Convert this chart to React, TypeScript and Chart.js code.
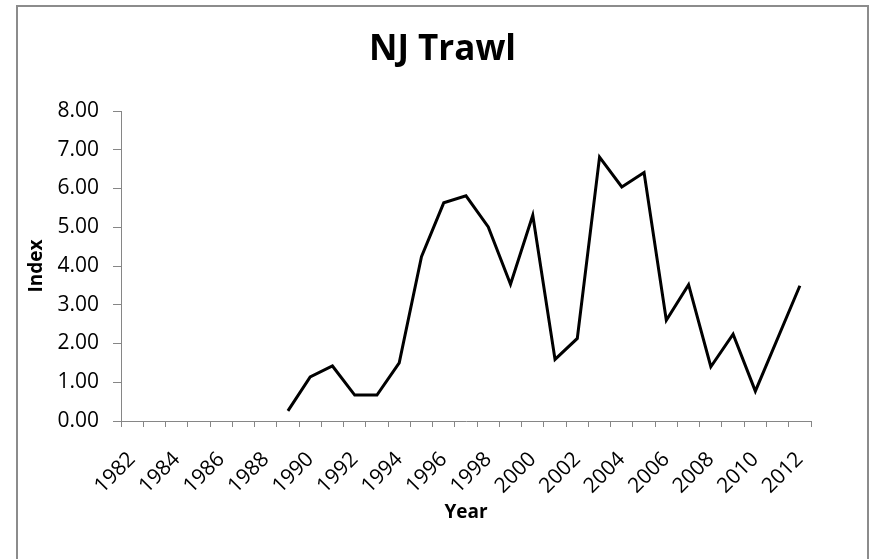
import React, { useEffect, useRef } from "react";
import { Chart, registerables } from "chart.js";

Chart.register(...registerables);

const years: string[] = [
  "1982", "1983", "1984", "1985", "1986", "1987", "1988", "1989", "1990", "1991",
  "1992", "1993", "1994", "1995", "1996", "1997", "1998", "1999", "2000", "2001",
  "2002", "2003", "2004", "2005", "2006", "2007", "2008", "2009", "2010", "2011", "2012",
];

const indexValues: (number | null)[] = [
  null, null, null, null, null, null, null, 0.26, 1.14, 1.42,
  0.67, 0.67, 1.5, 4.24, 5.63, 5.81, 5.01, 3.53, 5.31, 1.59,
  2.13, 6.81, 6.04, 6.41, 2.6, 3.52, 1.4, 2.24, 0.77, null, 3.49,
];

const yTicks: number[] = [0, 1, 2, 3, 4, 5, 6, 7, 8];

const FONT = "'Open Sans', 'DejaVu Sans', sans-serif";
const AXIS_GRAY = "#868686";

const framePlugin = {
  id: "frame",
  afterDraw(chart: any) {
    const ctx = chart.ctx;
    ctx.save();
    ctx.strokeStyle = "#8c8c8c";
    ctx.lineWidth = 2;
    ctx.strokeRect(17, 6, 851, 600);
    ctx.restore();
  },
};

export default function App() {
  const ref = useRef<HTMLCanvasElement | null>(null);

  useEffect(() => {
    if (!ref.current) return;
    const chart = new Chart(ref.current, {
      type: "line",
      data: {
        labels: years,
        datasets: [
          {
            label: "NJ Trawl",
            data: indexValues,
            borderColor: "#000000",
            backgroundColor: "#000000",
            borderWidth: 3,
            pointRadius: 0,
            pointHoverRadius: 0,
            tension: 0,
            spanGaps: true,
            fill: false,
            yAxisID: "y",
          },
        ],
      },
      options: {
        responsive: false,
        animation: false,
        layout: { padding: { left: 16, right: 4, top: 0, bottom: 0 } },
        plugins: {
          legend: { display: false },
          tooltip: { enabled: false },
          title: {
            display: true,
            text: "NJ Trawl",
            color: "#000000",
            font: { family: FONT, size: 35, weight: "bold" },
            padding: { top: 29, bottom: 40 },
          },
        },
        scales: {
          x: {
            type: "category",
            offset: true,
            afterFit(scale: any) {
              scale.height = 138;
            },
            grid: {
              display: true,
              offset: true,
              drawOnChartArea: false,
              drawTicks: true,
              tickLength: 6,
              color: AXIS_GRAY,
            },
            border: { display: true, color: AXIS_GRAY, width: 1 },
            ticks: {
              autoSkip: false,
              maxRotation: 45,
              minRotation: 45,
              padding: 20,
              color: "#000000",
              font: { family: FONT, size: 21 },
              callback(_v: any, i: number) {
                return i % 2 === 0 ? years[i] : "";
              },
            },
            title: {
              display: true,
              text: "Year",
              color: "#000000",
              font: { family: FONT, size: 19, weight: "bold" },
              padding: { top: 0, bottom: 35 },
            },
          },
          y: {
            min: yTicks[0],
            max: yTicks[yTicks.length - 1],
            afterFit(scale: any) {
              scale.width = 105;
            },
            afterBuildTicks(scale: any) {
              scale.ticks = yTicks.map((v) => ({ value: v }));
            },
            grid: {
              display: true,
              drawOnChartArea: false,
              drawTicks: true,
              tickLength: 8,
              color: AXIS_GRAY,
            },
            border: { display: true, color: AXIS_GRAY, width: 1 },
            ticks: {
              padding: 14,
              color: "#000000",
              font: { family: FONT, size: 21 },
              callback(v: any) {
                return Number(v).toFixed(2);
              },
            },
            title: {
              display: true,
              text: "Index",
              color: "#000000",
              font: { family: FONT, size: 19, weight: "bold" },
              padding: { top: 9, bottom: 0 },
            },
          },
          yRight: {
            position: "right",
            display: true,
            afterFit(scale: any) {
              scale.width = 873 - 811 - 4;
            },
            grid: { display: false },
            border: { display: false },
            ticks: { display: false },
          },
        },
      },
      plugins: [framePlugin],
    });
    return () => chart.destroy();
  }, []);

  return (
    <div style={{ position: "absolute", left: 0, top: 0, width: 873, height: 559, background: "#ffffff" }}>
      <canvas ref={ref} width={873} height={559} style={{ display: "block" }} />
    </div>
  );
}
